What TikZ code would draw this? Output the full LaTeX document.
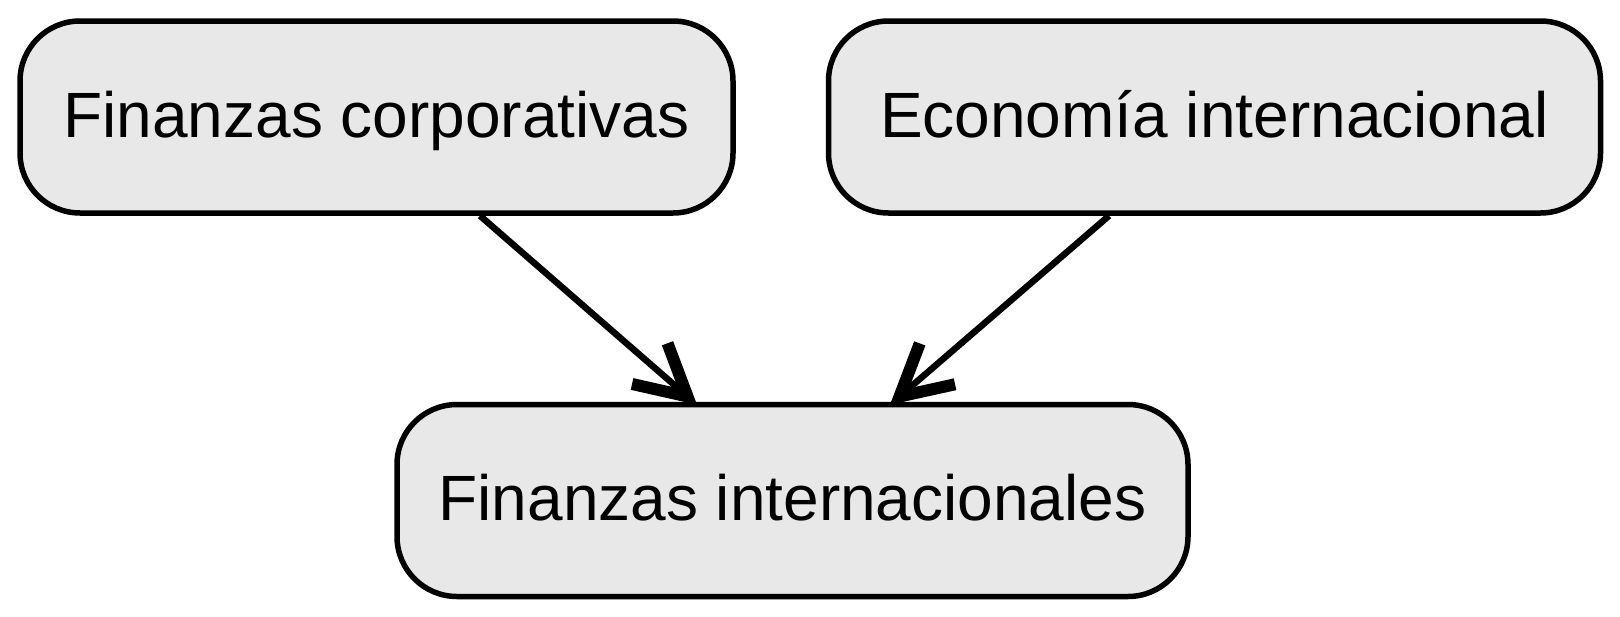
\documentclass[tikz,border=0pt]{standalone}
\usepackage{fontspec}
\setmainfont{Liberation Sans}
\usetikzlibrary{arrows.meta,calc}
\definecolor{boxfill}{HTML}{E8E8E8}
\tikzset{
  box/.style={draw=black, line width=5.5pt, fill=boxfill, rounded corners=60pt,
    minimum height=192pt, inner sep=0pt, text height=53pt, text depth=13pt,
    font=\fontsize{64}{76}\selectfont, text=black},
  arr/.style={line width=6.5pt, -{Straight Barb[length=50pt,width=54pt,line width=12pt]}}
}
\begin{document}
\begin{tikzpicture}[x=1pt,y=-1pt]
\useasboundingbox (0,0) rectangle (1620,616);
\node[box, minimum width=713pt] (b1) at (376.5,117) {Finanzas corporativas};
\node[box, minimum width=772pt] (b2) at (1214.5,117) {Economía internacional};
\node[box, minimum width=791pt] (b3) at (792.5,500.5) {Finanzas internacionales};
\path (b1.south) ++(103.5,0) coordinate (s1);
\path (b2.south) ++(-105.5,0) coordinate (s2);
\path (b3.north) ++(-95.5,3) coordinate (t1);
\path (b3.north) ++(97.5,3) coordinate (t2);
\draw[arr] (s1) -- (t1);
\draw[arr] (s2) -- (t2);
\end{tikzpicture}
\end{document}
